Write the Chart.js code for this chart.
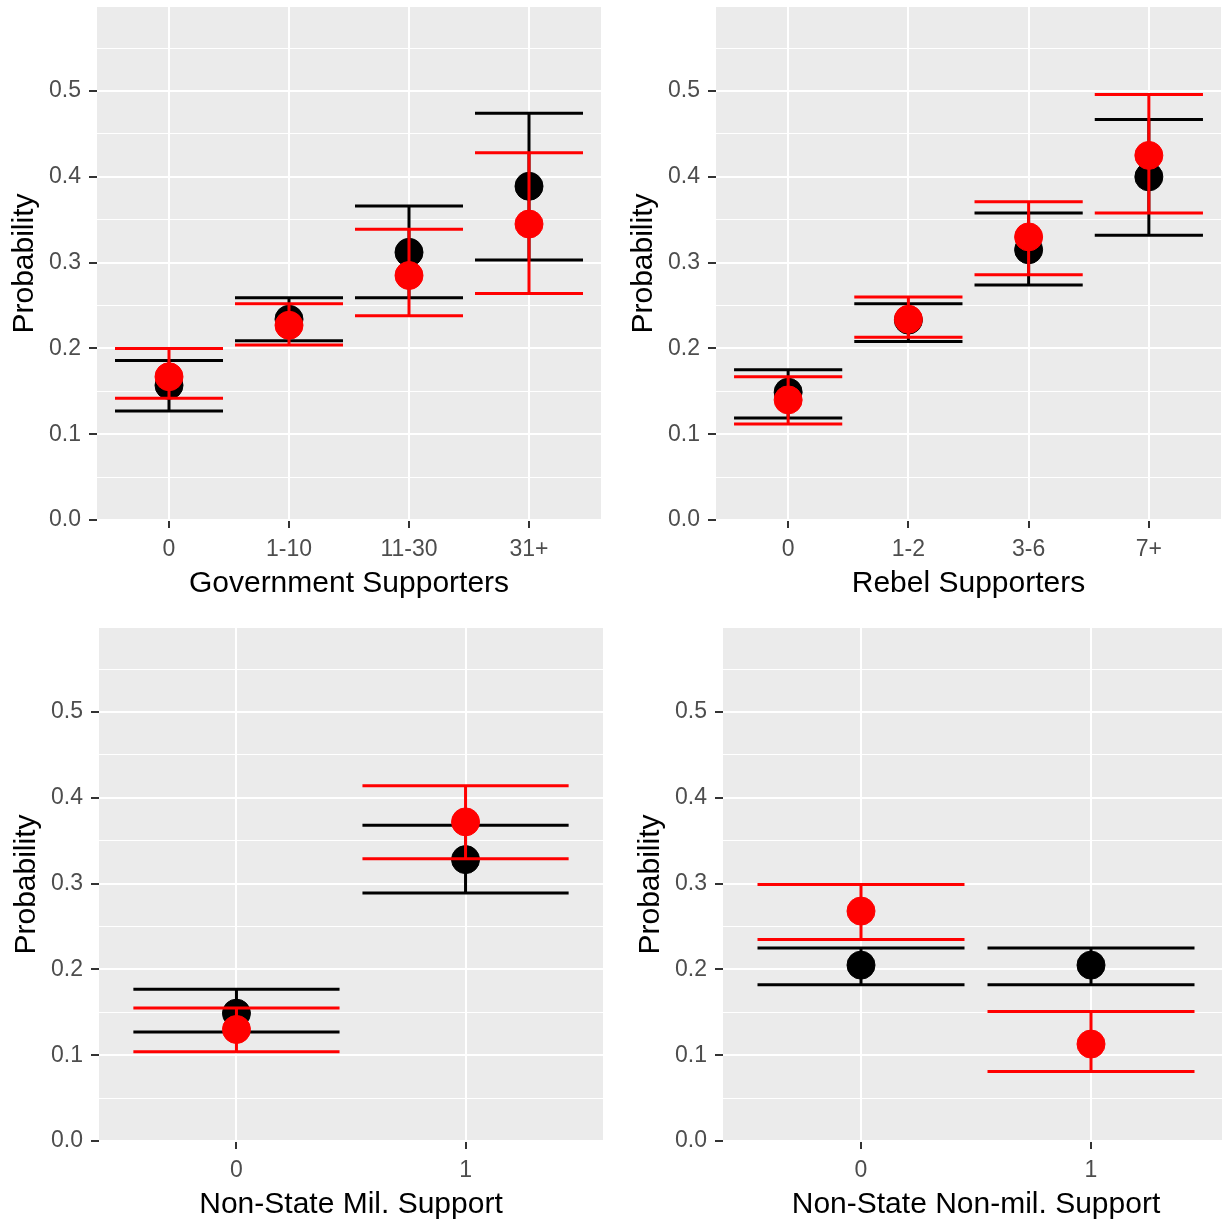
<!DOCTYPE html>
<html>
<head>
<meta charset="utf-8">
<script src="https://cdn.jsdelivr.net/npm/chart.js@4.4.1/dist/chart.umd.min.js"></script>
<style>
  html, body { margin: 0; padding: 0; background: #fff; overflow: hidden; }
  body { width: 1222px; height: 1222px; position: relative; }
  canvas { position: absolute; }
</style>
</head>
<body>
<canvas id="gov"></canvas>
<canvas id="rebel"></canvas>
<canvas id="mil"></canvas>
<canvas id="nonmil"></canvas>
<script>
// Government supporters
const govLabels = ['0', '1-10', '11-30', '31+'];
const govBlack = [0.157, 0.234, 0.312, 0.389];
const govBlackLo = [0.127, 0.209, 0.259, 0.303];
const govBlackHi = [0.186, 0.259, 0.366, 0.474];
const govRed = [0.167, 0.227, 0.285, 0.345];
const govRedLo = [0.142, 0.204, 0.238, 0.264];
const govRedHi = [0.200, 0.252, 0.339, 0.428];

// Rebel supporters
const rebelLabels = ['0', '1-2', '3-6', '7+'];
const rebelBlack = [0.149, 0.233, 0.315, 0.400];
const rebelBlackLo = [0.119, 0.208, 0.274, 0.332];
const rebelBlackHi = [0.175, 0.252, 0.358, 0.467];
const rebelRed = [0.140, 0.234, 0.330, 0.425];
const rebelRedLo = [0.112, 0.213, 0.286, 0.358];
const rebelRedHi = [0.167, 0.260, 0.371, 0.496];

// Non-state military support
const milLabels = ['0', '1'];
const milBlack = [0.149, 0.328];
const milBlackLo = [0.127, 0.289];
const milBlackHi = [0.177, 0.368];
const milRed = [0.130, 0.372];
const milRedLo = [0.104, 0.329];
const milRedHi = [0.155, 0.414];

// Non-state non-military support
const nonmilLabels = ['0', '1'];
const nonmilBlack = [0.205, 0.205];
const nonmilBlackLo = [0.182, 0.182];
const nonmilBlackHi = [0.225, 0.225];
const nonmilRed = [0.268, 0.113];
const nonmilRedLo = [0.235, 0.081];
const nonmilRedHi = [0.299, 0.151];

const yMajor = [0, 0.1, 0.2, 0.3, 0.4, 0.5];
const yMinor = [0.05, 0.15, 0.25, 0.35, 0.45, 0.55];
const yMax = 0.598;

const FONT = "'Liberation Sans', Arial, sans-serif";

// grey panel + error bars drawn under each dataset's points
const errorBars = {
  id: 'errorBars',
  beforeDraw(chart) {
    const a = chart.chartArea;
    const ctx = chart.ctx;
    ctx.save();
    ctx.fillStyle = '#EBEBEB';
    ctx.fillRect(a.left, a.top, a.right - a.left, a.bottom - a.top);
    ctx.restore();
  },
  beforeDatasetDraw(chart, args) {
    const ds = chart.data.datasets[args.index];
    const xs = chart.scales.x, ys = chart.scales.y;
    const ctx = chart.ctx;
    ctx.save();
    ctx.strokeStyle = ds.backgroundColor;
    ctx.lineWidth = 3;
    ds.lo.forEach((lo, i) => {
      const hi = ds.hi[i];
      const xc = xs.getPixelForValue(i + 1);
      const x0 = xs.getPixelForValue(i + 1 - 0.45);
      const x1 = xs.getPixelForValue(i + 1 + 0.45);
      const yl = ys.getPixelForValue(lo), yh = ys.getPixelForValue(hi);
      ctx.beginPath();
      ctx.moveTo(x0, yh); ctx.lineTo(x1, yh);
      ctx.moveTo(x0, yl); ctx.lineTo(x1, yl);
      ctx.moveTo(xc, yh); ctx.lineTo(xc, yl);
      ctx.stroke();
    });
    ctx.restore();
  }
};

function makeChart(id, box, labels, black, blackLo, blackHi, red, redLo, redHi, xTitle) {
  const cv = document.getElementById(id);
  cv.width = box.w; cv.height = box.h;
  cv.style.left = box.x + 'px'; cv.style.top = box.y + 'px';
  cv.style.width = box.w + 'px'; cv.style.height = box.h + 'px';

  const pts = arr => arr.map((v, i) => ({ x: i + 1, y: v }));
  const isMajor = v => yMajor.includes(v);

  return new Chart(cv.getContext('2d'), {
    type: 'scatter',
    data: {
      datasets: [
        { data: pts(black), lo: blackLo, hi: blackHi, backgroundColor: '#000000', borderColor: '#000000',
          pointRadius: 14, borderWidth: 1, order: 2 },
        { data: pts(red), lo: redLo, hi: redHi, backgroundColor: '#FF0000', borderColor: '#FF0000',
          pointRadius: 14, borderWidth: 1, order: 1 }
      ]
    },
    options: {
      responsive: false,
      animation: false,
      devicePixelRatio: 1,
      layout: { autoPadding: false, padding: { top: 7, right: 0, left: 0, bottom: 0 } },
      plugins: { legend: { display: false }, tooltip: { enabled: false } },
      scales: {
        x: {
          type: 'linear',
          min: 0.4,
          max: labels.length + 0.6,
          afterBuildTicks: s => { s.ticks = labels.map((l, i) => ({ value: i + 1 })); },
          afterFit: s => { s.height = 85; s.paddingLeft = 0; s.paddingRight = 0; },
          ticks: {
            autoSkip: false,
            maxRotation: 0,
            padding: 8,
            color: '#4D4D4D',
            font: { family: FONT, size: 23 },
            callback: v => labels[Math.round(v) - 1]
          },
          grid: { color: '#FFFFFF', lineWidth: 2, tickColor: '#333333', tickLength: 8, tickWidth: 2 },
          border: { display: false },
          title: { display: true, text: xTitle, color: '#000000',
                   font: { family: FONT, size: 30, lineHeight: 1 }, padding: { top: 0, bottom: 6 } }
        },
        y: {
          min: 0,
          max: yMax,
          afterBuildTicks: s => { s.ticks = yMajor.concat(yMinor).sort((a, b) => a - b).map(v => ({ value: v })); },
          afterFit: s => { s.width = 97; s.paddingTop = 0; s.paddingBottom = 0; },
          ticks: {
            autoSkip: false,
            padding: 8,
            color: '#4D4D4D',
            font: { family: FONT, size: 23 },
            callback: v => isMajor(v) ? v.toFixed(1) : ''
          },
          grid: {
            color: '#FFFFFF',
            lineWidth: c => (c.tick && isMajor(c.tick.value)) ? 2 : 1,
            tickColor: c => (c.tick && isMajor(c.tick.value)) ? '#333333' : 'rgba(0,0,0,0)',
            tickLength: 8,
            tickWidth: 2
          },
          border: { display: false },
          title: { display: true, text: 'Probability', color: '#000000',
                   font: { family: FONT, size: 30, lineHeight: 1 }, padding: { top: 10, bottom: 0 } }
        }
      }
    },
    plugins: [errorBars]
  });
}

makeChart('gov', { x: 0, y: 0, w: 601, h: 605 },
  govLabels, govBlack, govBlackLo, govBlackHi, govRed, govRedLo, govRedHi, 'Government Supporters');
makeChart('rebel', { x: 619, y: 0, w: 602, h: 605 },
  rebelLabels, rebelBlack, rebelBlackLo, rebelBlackHi, rebelRed, rebelRedLo, rebelRedHi, 'Rebel Supporters');
makeChart('mil', { x: 2, y: 621, w: 601, h: 605 },
  milLabels, milBlack, milBlackLo, milBlackHi, milRed, milRedLo, milRedHi, 'Non-State Mil. Support');
makeChart('nonmil', { x: 626, y: 621, w: 603, h: 605 },
  nonmilLabels, nonmilBlack, nonmilBlackLo, nonmilBlackHi, nonmilRed, nonmilRedLo, nonmilRedHi, 'Non-State Non-mil. Support');
</script>
</body>
</html>
